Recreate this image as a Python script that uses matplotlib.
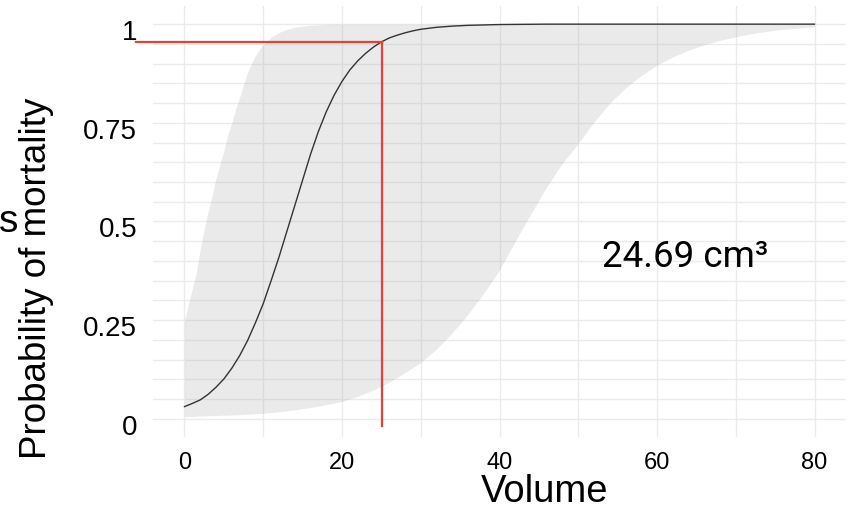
import matplotlib.pyplot as plt
import matplotlib.transforms as mtransforms
import numpy as np

# fitted probability curve
curve_x = [0, 1, 2, 3, 4, 5, 6, 7, 8, 9, 10, 11, 12, 13, 14, 15, 16, 17, 18,
           19, 20, 21, 22, 23, 24, 25, 26, 27, 28, 29, 30, 32, 34, 36, 40,
           46, 55, 65, 80]
curve_y = [0.031, 0.039, 0.048, 0.062, 0.080, 0.101, 0.128, 0.160, 0.198,
           0.243, 0.292, 0.350, 0.410, 0.475, 0.540, 0.605, 0.670, 0.728,
           0.778, 0.820, 0.855, 0.884, 0.907, 0.926, 0.942, 0.955, 0.965,
           0.972, 0.978, 0.983, 0.987, 0.992, 0.995, 0.997, 0.999, 1.0, 1.0,
           1.0, 1.0]

# confidence band
band_x = [0, 0.5, 1, 1.5, 2, 2.5, 3, 3.5, 4, 4.5, 5, 5.5, 6, 6.5, 7, 7.5, 8,
          8.5, 9, 9.5, 10, 11, 12, 13, 14, 15, 16, 17, 18, 19, 20, 22, 24, 26,
          28, 30, 32, 34, 36, 38, 40, 42, 44, 46, 48, 50, 52, 54, 56, 58, 60,
          62, 64, 66, 68, 70, 72, 74, 76, 78, 80]
band_lo = [0.006, 0.006, 0.006, 0.007, 0.007, 0.007, 0.008, 0.008, 0.008,
           0.009, 0.009, 0.009, 0.010, 0.010, 0.011, 0.011, 0.012, 0.012,
           0.013, 0.013, 0.014, 0.016, 0.018, 0.020, 0.023, 0.026, 0.029,
           0.032, 0.036, 0.040, 0.044, 0.057, 0.073, 0.093, 0.117, 0.143,
           0.177, 0.218, 0.265, 0.318, 0.377, 0.450, 0.520, 0.588, 0.648,
           0.698, 0.752, 0.800, 0.838, 0.870, 0.896, 0.917, 0.934, 0.948,
           0.959, 0.968, 0.976, 0.982, 0.987, 0.990, 0.993]
band_hi = [0.25, 0.29, 0.33, 0.37, 0.43, 0.48, 0.525, 0.565, 0.61, 0.645,
           0.68, 0.72, 0.75, 0.785, 0.815, 0.848, 0.878, 0.90, 0.92, 0.936,
           0.948, 0.967, 0.979, 0.987, 0.992, 0.995, 0.997, 0.998, 0.999,
           1.0, 1.0, 1.0, 1.0, 1.0, 1.0, 1.0, 1.0, 1.0, 1.0, 1.0, 1.0, 1.0,
           1.0, 1.0, 1.0, 1.0, 1.0, 1.0, 1.0, 1.0, 1.0, 1.0, 1.0, 1.0, 1.0,
           1.0, 1.0, 1.0, 1.0, 1.0, 1.0]

# threshold marker
marker_x = 25.1
marker_y = 0.955
marker_label = "24.69 cm³"

x_ticks = [0, 20, 40, 60, 80]
y_ticks = [0, 0.25, 0.5, 0.75, 1]
y_tick_labels = ["0", "0.25", "0.5", "0.75", "1"]

fig = plt.figure(figsize=(8.59, 5.12), dpi=100)
ax = fig.add_axes([0.1781, 0.1465, 0.8068, 0.8418])

ax.set_xlim(-4, 84)
ax.set_ylim(-0.046, 1.046)

for gx in np.arange(0, 81, 10):
    ax.axvline(gx, color="#ebebeb", lw=1.0, zorder=0)
for gy in np.arange(0, 1.001, 0.05):
    ax.axhline(gy, color="#ebebeb", lw=1.0, zorder=0)

ax.fill_between(band_x, band_lo, band_hi, color="#999999", alpha=0.2,
                lw=0, zorder=1)
ax.plot(curve_x, curve_y, color="#333333", lw=1.0, zorder=2)

ax.plot([-6.1, marker_x], [marker_y, marker_y], color="#e34234", lw=1.6,
        clip_on=False, zorder=3)
ax.plot([marker_x, marker_x], [marker_y, -0.018], color="#e34234", lw=1.6,
        clip_on=False, zorder=3)

ax.text(53.0, 0.385, marker_label, fontsize=26.5, family="Roboto",
        ha="left", va="baseline")

for s in ax.spines.values():
    s.set_visible(False)

ax.set_xticks(x_ticks)
ax.set_xticklabels([str(v) for v in x_ticks], family="Liberation Sans",
                   fontsize=17)
ax.set_yticks(y_ticks)
ax.set_yticklabels(y_tick_labels, family="Liberation Sans", fontsize=20)
ax.tick_params(axis="x", length=0, pad=11)
ax.tick_params(axis="y", length=0, pad=11.5)

offset = mtransforms.ScaledTranslation(0, -6 / 100, fig.dpi_scale_trans)
for lab in ax.get_yticklabels():
    lab.set_transform(lab.get_transform() + offset)

fig.text(37 / 859, 1 - 278 / 512, "Probability of mortality", rotation=90,
         fontsize=26.5, family="Liberation Sans", ha="center", va="center")
fig.text(9 / 859, 1 - 222 / 512, "s",
         fontsize=28, family="Liberation Sans", ha="center", va="center")
fig.text(545 / 859, 1 - 492 / 512, "Volume",
         fontsize=27.5, family="Liberation Sans", ha="center", va="center")

fig.savefig("out.png", dpi=100)
